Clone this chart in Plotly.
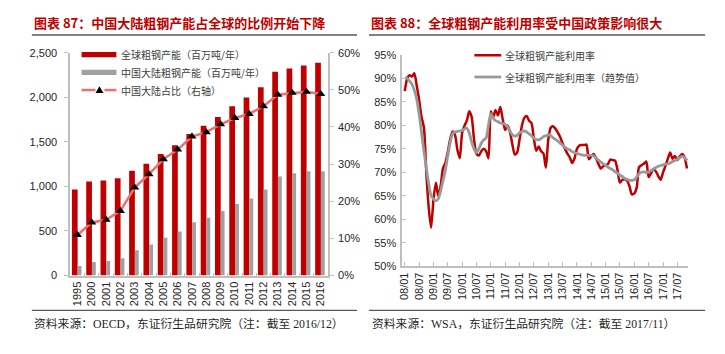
import plotly.graph_objects as go
import pandas as pd

# ---------------- data: left chart ----------------
years = ["1995", "2000", "2001", "2002", "2003", "2004", "2005", "2006", "2007",
         "2008", "2009", "2010", "2011", "2012", "2013", "2014", "2015", "2016"]
global_capacity = [965, 1055, 1066, 1092, 1175, 1255, 1363, 1461, 1587,
                   1681, 1779, 1898, 1996, 2112, 2285, 2321, 2357, 2386]
china_capacity = [108, 152, 163, 195, 285, 347, 423, 495, 597,
                  647, 723, 803, 864, 965, 1110, 1146, 1171, 1171]
china_share = [10.9, 14.3, 15.0, 17.4, 23.7, 27.3, 31.3, 33.9, 37.4,
               38.6, 40.7, 42.4, 43.5, 45.6, 48.7, 49.2, 49.5, 48.9]

# ---------------- data: right chart (monthly, from 2008-01) ----------------
util_start = "2008-01-01"
util_rate = [87.3, 90.0, 90.7, 90.4, 91.1, 88.5, 85.5, 81.8, 79.5, 70.0,
             62.5, 58.2, 64.3, 67.8, 65.0, 67.0, 70.8, 72.0, 74.3, 77.0,
             78.7, 78.0, 74.8, 73.0, 78.5, 80.0, 81.0, 83.0, 81.8, 77.0,
             74.0, 73.6, 74.5, 75.0, 74.5, 73.0, 83.0, 81.8, 83.3, 82.1,
             83.9, 81.3, 79.0, 80.0, 78.6, 76.0, 73.8, 74.2, 77.0, 80.0,
             81.6, 82.0, 81.0, 80.5, 77.2, 74.6, 75.5, 74.5, 74.0, 71.0,
             77.0, 79.5, 79.8, 79.3, 78.5, 77.5, 76.2, 75.0, 74.0, 73.2,
             72.0, 73.0, 75.0, 75.7, 75.8, 75.8, 75.9, 72.8, 73.4, 73.9,
             73.0, 71.8, 70.8, 71.3, 71.5, 71.8, 72.7, 72.6, 72.5, 70.5,
             67.8, 68.4, 68.5, 68.2, 67.0, 65.3, 65.5, 66.8, 71.1, 71.5,
             71.8, 72.3, 69.0, 69.8, 70.7, 70.2, 69.2, 68.4, 70.0, 71.4,
             72.8, 74.2, 72.9, 73.5, 72.6, 73.4, 73.9, 73.2, 70.8]
util_trend = [90.2, 90.0, 89.5, 88.8, 87.5, 85.6, 82.5, 78.5, 74.5, 71.0,
              67.5, 65.0, 64.3, 63.9, 64.3, 66.0, 68.2, 70.5, 73.5, 76.3,
              78.2, 78.6, 78.7, 78.8, 78.9, 79.3, 79.4, 78.4, 76.5, 75.0,
              74.2, 75.0, 76.2, 76.9, 77.3, 80.0, 82.5, 81.5, 81.0, 80.8,
              80.5, 80.4, 80.2, 79.7, 78.8, 78.0, 77.7, 77.9, 78.4, 78.7,
              78.8, 78.6, 78.2, 77.8, 77.3, 77.0, 76.9, 77.2, 77.6, 77.8,
              78.0, 77.8, 77.4, 77.0, 76.7, 76.2, 75.8, 75.3, 75.0, 74.8,
              74.4, 74.2, 74.0, 73.9, 73.7, 73.6, 73.6, 73.6, 73.6, 73.5,
              73.0, 72.6, 72.2, 71.8, 71.5, 71.1, 70.8, 70.5, 70.1, 69.8,
              69.4, 69.1, 68.7, 68.5, 68.3, 68.3, 68.4, 69.0, 69.7, 70.0,
              70.1, 70.0, 70.1, 70.4, 70.7, 71.0, 71.3, 71.4, 71.6, 71.7,
              71.8, 72.0, 72.3, 72.5, 72.8, 73.1, 73.4, 73.2, 72.5]
util_ticks = ["08/01", "08/07", "09/01", "09/07", "10/01", "10/07", "11/01",
              "11/07", "12/01", "12/07", "13/01", "13/07", "14/01", "14/07",
              "15/01", "15/07", "16/01", "16/07", "17/01", "17/07"]

months = pd.date_range(util_start, periods=len(util_rate), freq="MS")
tick_dates = [pd.Timestamp("20" + t.replace("/", "-") + "-01") for t in util_ticks]

W, H = 725, 354
def px(x): return x / W
def py(y): return 1 - y / H

RED = "#C00000"
GRAY = "#A0A0A0"
PINK = "#F26D6D"
TXT = "#262626"
AXC = "#BFBFBF"
LAT = "Liberation Sans, Arial, sans-serif"
CJK = "Noto Sans CJK SC"

fig = go.Figure()

# ---- left chart traces ----
fig.add_trace(go.Bar(x=years, y=global_capacity, marker_color=RED, marker_line_width=0,
                     width=0.4, offset=-0.39, xaxis="x", yaxis="y", showlegend=False,
                     name="全球粗钢产能（百万吨/年）"))
fig.add_trace(go.Bar(x=years, y=china_capacity, marker_color=GRAY, marker_line_width=0,
                     width=0.27, offset=0.01, xaxis="x", yaxis="y", showlegend=False,
                     name="中国大陆粗钢产能（百万吨/年）"))
fig.add_trace(go.Scatter(x=years, y=china_share, xaxis="x", yaxis="y2", mode="lines+markers",
                         line=dict(color=PINK, width=2.5),
                         marker=dict(symbol="triangle-up", size=8, color="black"),
                         showlegend=False, name="中国大陆占比（右轴）"))

# ---- right chart traces ----
fig.add_trace(go.Scatter(x=months, y=util_rate, xaxis="x3", yaxis="y3", mode="lines",
                         line=dict(color=RED, width=2.5, shape="spline", smoothing=0.7),
                         showlegend=False, name="全球粗钢产能利用率"))
fig.add_trace(go.Scatter(x=months, y=util_trend, xaxis="x3", yaxis="y3", mode="lines",
                         line=dict(color="#999999", width=2.8, shape="spline", smoothing=0.7),
                         showlegend=False, name="全球粗钢产能利用率（趋势值）"))

tickfont = dict(family=LAT, size=11, color=TXT)

fig.update_layout(
    width=W, height=H, margin=dict(l=0, r=0, t=0, b=0),
    paper_bgcolor="white", plot_bgcolor="white", barmode="overlay",
    xaxis=dict(domain=[px(66.7), px(325.7)], type="category", range=[-0.5, 17.5],
               showline=True, linecolor=AXC, linewidth=1.5, ticks="inside",
               tickson="boundaries", ticklen=3, tickcolor=AXC, tickangle=-90,
               tickfont=tickfont, showgrid=False, anchor="y", fixedrange=True),
    yaxis=dict(domain=[py(279), py(48.3)], range=[0, 2500], dtick=500, tickformat=",",
               showline=True, linecolor=AXC, linewidth=2, ticks="outside", ticklen=4,
               tickcolor=AXC, tickfont=tickfont, showgrid=False, zeroline=False,
               anchor="x", ticklabelstandoff=5),
    yaxis2=dict(overlaying="y", side="right", range=[0, 60], dtick=10, ticksuffix="%",
                showline=True, linecolor=AXC, linewidth=2, ticks="outside", ticklen=4,
                tickcolor=AXC, tickfont=tickfont, showgrid=False, zeroline=False,
                anchor="x", ticklabelstandoff=2),
    xaxis3=dict(domain=[px(400.7), px(688)], type="date",
                range=["2007-12-03", "2017-11-17"], tickvals=tick_dates, ticktext=util_ticks,
                tickangle=-90, showline=True, linecolor=AXC, linewidth=2, ticks="inside",
                ticklen=4, tickcolor=AXC, tickfont=tickfont, showgrid=False, anchor="y3"),
    yaxis3=dict(domain=[py(269.3), py(50.7)], range=[50, 95], dtick=5, ticksuffix="%",
                showline=True, linecolor=AXC, linewidth=2, ticks="inside", ticklen=4,
                tickcolor=AXC, tickfont=tickfont, showgrid=False, zeroline=False,
                anchor="x3", ticklabelstandoff=2),
)

shapes = []
annotations = []

# titles and rules
titles = [("图表 87：中国大陆粗钢产能占全球的比例开始下降", 28, 28, 355),
          ("图表 88：全球粗钢产能利用率受中国政策影响很大", 367, 367, 705)]
for text, tx, x0, x1 in titles:
    annotations.append(dict(text="<b>" + text + "</b>", x=px(tx), y=py(17.5), xref="paper",
                            yref="paper", xanchor="left", yanchor="middle", showarrow=False,
                            font=dict(family=CJK, size=13, color="#C00000")))
    shapes.append(dict(type="line", xref="paper", yref="paper", x0=px(x0), x1=px(x1),
                       y0=py(30), y1=py(30), line=dict(color="#595959", width=1.5)))
    shapes.append(dict(type="line", xref="paper", yref="paper", x0=px(x0), x1=px(x1),
                       y0=py(315), y1=py(315), line=dict(color="#595959", width=1.2)))

sources = [("资料来源：OECD，东证衍生品研究院（注：截至 2016/12）", 28),
           ("资料来源：WSA，东证衍生品研究院（注：截至 2017/11）", 368)]
for text, tx in sources:
    annotations.append(dict(text=text, x=px(tx), y=py(329), xref="paper", yref="paper",
                            xanchor="left", yanchor="middle", showarrow=False,
                            font=dict(family="Liberation Serif, " + CJK, size=11.8, color=TXT)))

# left legend (manual)
legfont = dict(family=CJK, size=10, color="#404040")
shapes.append(dict(type="rect", xref="paper", yref="paper", x0=px(78), x1=px(113),
                   y0=py(53), y1=py(47.5), fillcolor=RED, line=dict(width=0)))
shapes.append(dict(type="rect", xref="paper", yref="paper", x0=px(78), x1=px(113),
                   y0=py(71.5), y1=py(66), fillcolor=GRAY, line=dict(width=0)))
shapes.append(dict(type="line", xref="paper", yref="paper", x0=px(78), x1=px(92),
                   y0=py(87), y1=py(87), line=dict(color=PINK, width=2.5)))
shapes.append(dict(type="line", xref="paper", yref="paper", x0=px(101), x1=px(113),
                   y0=py(87), y1=py(87), line=dict(color=PINK, width=2.5)))
shapes.append(dict(type="path", xref="paper", yref="paper",
                   path="M %f,%f L %f,%f L %f,%f Z" % (px(92), py(90), px(100), py(90),
                                                       px(96), py(83)),
                   fillcolor="black", line=dict(width=0)))
for text, y in [("全球粗钢产能（百万吨/年）", 50), ("中国大陆粗钢产能（百万吨/年）", 69),
                ("中国大陆占比（右轴）", 87)]:
    annotations.append(dict(text=text, x=px(116), y=py(y), xref="paper", yref="paper",
                            xanchor="left", yanchor="middle", showarrow=False, font=legfont))

# right legend (manual)
shapes.append(dict(type="line", xref="paper", yref="paper", x0=px(473), x1=px(500),
                   y0=py(51), y1=py(51), line=dict(color=RED, width=2.5)))
shapes.append(dict(type="line", xref="paper", yref="paper", x0=px(473), x1=px(500),
                   y0=py(73.5), y1=py(73.5), line=dict(color="#999999", width=2.8)))
for text, y in [("全球粗钢产能利用率", 51), ("全球粗钢产能利用率（趋势值）", 73.5)]:
    annotations.append(dict(text=text, x=px(502), y=py(y), xref="paper", yref="paper",
                            xanchor="left", yanchor="middle", showarrow=False, font=legfont))

fig.update_layout(shapes=shapes, annotations=annotations)
fig.write_html("out.html")
